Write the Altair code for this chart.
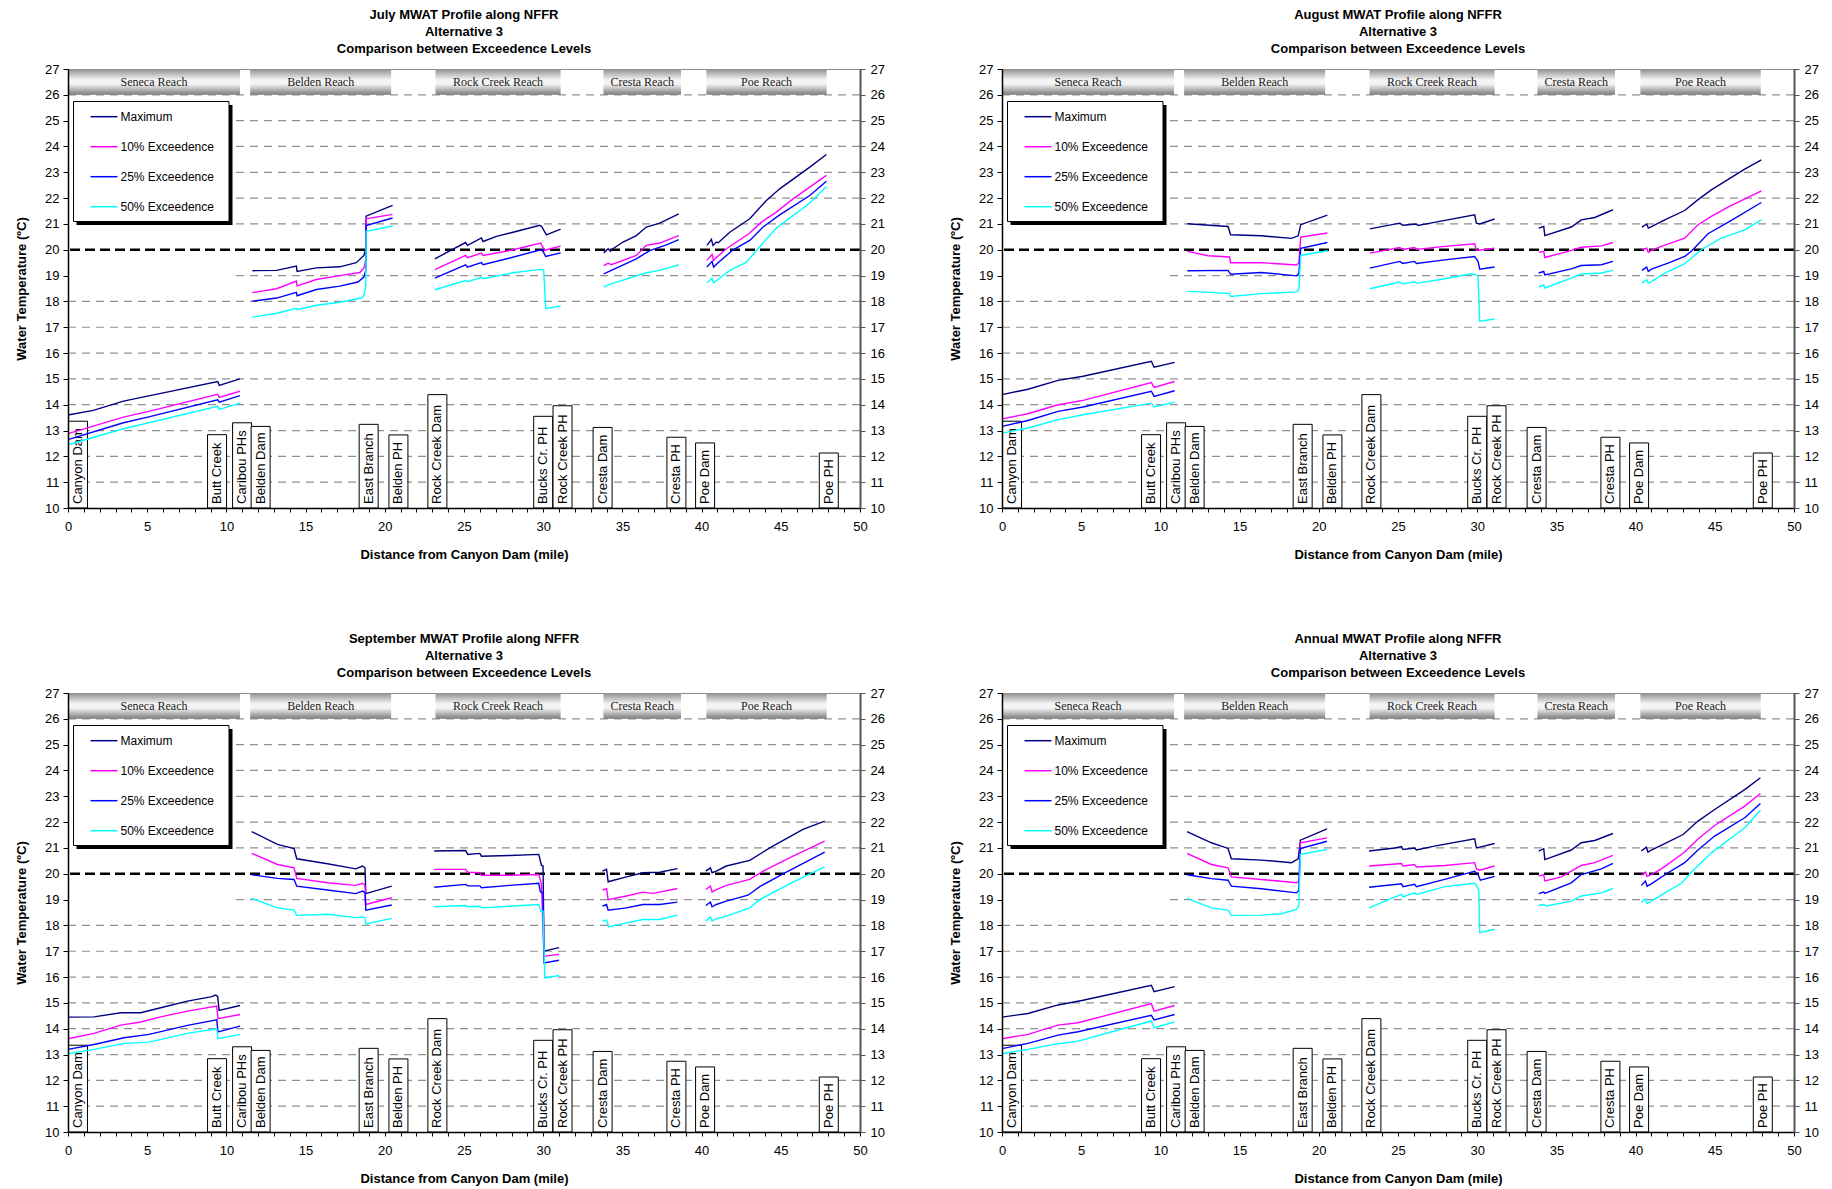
import altair as alt
import pandas as pd

FONT = "Liberation Sans"
SERIF = "Liberation Serif"

SERIES = ["Maximum", "10% Exceedence", "25% Exceedence", "50% Exceedence"]
COLORS = ["#000080", "#FF00FF", "#0000FF", "#00FFFF"]

REACHES = ["Seneca Reach", "Belden Reach", "Rock Creek Reach", "Cresta Reach", "Poe Reach"]
REACH_START = [0.0, 11.5, 23.2, 33.8, 40.3]
REACH_END = [10.86, 20.4, 31.1, 38.7, 47.9]

LOCATIONS = ["Canyon Dam", "Butt Creek", "Caribou PHs", "Belden Dam", "East Branch", "Belden PH",
             "Rock Creek Dam", "Bucks Cr. PH", "Rock Creek PH", "Cresta Dam", "Cresta PH",
             "Poe Dam", "Poe PH"]
LOC_MILE = [0.63, 9.41, 10.99, 12.16, 18.98, 20.86, 23.32, 30.0, 31.22, 33.75, 38.41, 40.22, 48.03]
LOC_TOP = [13.36, 12.84, 13.3, 13.16, 13.24, 12.83, 14.39, 13.55, 13.96, 13.12, 12.74, 12.52, 12.13]

Y_TICKS = list(range(10, 28))
X_TICKS = list(range(0, 51))
CRITERION = 20

# ---------------- July ----------------
JULY_MAX = [
    [(0, 13.6), (1.6, 13.78), (3.5, 14.14), (5.1, 14.34), (9.45, 14.9), (9.55, 14.75), (10.85, 15.0)],
    [(11.64, 19.19), (13.17, 19.2), (14.42, 19.37), (14.46, 19.16), (15.68, 19.3), (17.16, 19.34), (18.2, 19.5), (18.68, 19.78), (18.8, 20.04), (18.82, 21.3), (20.49, 21.72)],
    [(23.16, 19.65), (25.1, 20.28), (25.22, 20.17), (26.1, 20.46), (26.2, 20.32), (27.05, 20.52), (28.1, 20.68), (29.78, 20.95), (29.9, 20.9), (30.2, 20.58), (31.1, 20.8)],
    [(33.82, 19.88), (34.1, 20.04), (34.24, 19.94), (34.4, 20.04), (35.04, 20.3), (35.88, 20.55), (36.51, 20.88), (37.36, 21.03), (38.56, 21.39)],
    [(40.34, 20.17), (40.62, 20.4), (40.72, 20.17), (40.93, 20.3), (41.05, 20.27), (41.78, 20.68), (43.04, 21.2), (44.09, 21.91), (44.93, 22.36), (46.83, 23.2), (47.88, 23.69)],
]
JULY_P10 = [
    [(0, 12.88), (3.5, 13.52), (5.1, 13.74), (9.45, 14.4), (9.55, 14.28), (10.85, 14.52)],
    [(11.64, 18.34), (13.17, 18.49), (14.42, 18.79), (14.46, 18.6), (15.68, 18.85), (17.16, 19.0), (18.42, 19.12), (18.68, 19.29), (18.8, 19.6), (18.82, 21.2), (20.49, 21.37)],
    [(23.16, 19.23), (25.1, 19.78), (25.22, 19.69), (26.1, 19.87), (26.2, 19.78), (27.9, 19.97), (29.84, 20.26), (30.1, 19.97), (30.2, 20.0), (31.1, 20.14)],
    [(33.82, 19.39), (34.1, 19.48), (34.3, 19.42), (35.88, 19.78), (36.51, 20.17), (37.36, 20.26), (38.56, 20.55)],
    [(40.34, 19.59), (40.66, 19.82), (40.76, 19.59), (40.97, 19.72), (41.57, 20.04), (43.04, 20.65), (43.77, 21.07), (44.72, 21.46), (45.77, 21.97), (47.88, 22.88)],
]
JULY_P25 = [
    [(0, 12.65), (3.5, 13.3), (5.1, 13.53), (9.45, 14.19), (9.55, 14.1), (10.85, 14.35)],
    [(11.64, 18.01), (13.17, 18.13), (14.42, 18.35), (14.46, 18.22), (15.68, 18.46), (17.16, 18.59), (18.3, 18.75), (18.68, 18.94), (18.8, 19.2), (18.82, 20.94), (20.49, 21.23)],
    [(23.16, 18.9), (25.1, 19.42), (25.22, 19.33), (26.1, 19.5), (26.2, 19.42), (27.9, 19.68), (29.84, 20.0), (29.98, 19.95), (30.16, 19.74), (31.1, 19.88)],
    [(33.82, 19.07), (35.88, 19.65), (36.72, 19.97), (37.78, 20.19), (38.56, 20.39)],
    [(40.34, 19.33), (40.66, 19.55), (40.76, 19.33), (40.97, 19.46), (41.99, 20.0), (43.04, 20.36), (43.88, 20.88), (44.93, 21.35), (46.83, 22.1), (47.88, 22.65)],
]
JULY_P50 = [
    [(0, 12.45), (3.5, 13.07), (5.1, 13.3), (9.45, 13.94), (9.55, 13.82), (10.85, 14.06)],
    [(11.64, 17.39), (13.17, 17.54), (14.42, 17.73), (14.46, 17.68), (15.68, 17.85), (17.16, 17.97), (18.53, 18.13), (18.68, 18.23), (18.8, 18.6), (18.82, 20.71), (20.49, 20.92)],
    [(23.16, 18.45), (25.1, 18.81), (25.22, 18.76), (26.1, 18.93), (26.2, 18.88), (28.1, 19.11), (29.78, 19.24), (30.03, 19.21), (30.16, 17.72), (31.1, 17.82)],
    [(33.82, 18.55), (34.1, 18.64), (34.3, 18.68), (36.51, 19.11), (37.36, 19.2), (38.56, 19.42)],
    [(40.34, 18.72), (40.66, 18.9), (40.76, 18.72), (40.97, 18.82), (41.78, 19.2), (42.83, 19.52), (43.46, 19.97), (44.72, 20.84), (46.83, 21.81), (47.88, 22.45)],
]

# ---------------- August ----------------
AUG_MAX = [
    [(0, 14.39), (1.64, 14.6), (3.54, 14.94), (5.12, 15.1), (9.43, 15.68), (9.6, 15.45), (10.9, 15.64)],
    [(11.7, 21.01), (14.27, 20.9), (14.43, 20.58), (16.37, 20.54), (18.27, 20.44), (18.7, 20.54), (18.86, 20.97), (20.54, 21.34)],
    [(23.22, 20.81), (25.11, 21.03), (25.3, 20.95), (26.16, 21.0), (26.26, 20.94), (27.3, 21.06), (29.84, 21.35), (29.95, 21.03), (30.16, 21.0), (31.1, 21.19)],
    [(33.88, 20.84), (34.2, 20.9), (34.27, 20.55), (35.94, 20.88), (36.57, 21.16), (37.42, 21.25), (38.57, 21.55)],
    [(40.4, 20.88), (40.7, 21.0), (40.8, 20.84), (41.0, 20.9), (41.84, 21.16), (43.1, 21.52), (43.94, 21.94), (44.78, 22.32), (46.89, 23.12), (47.94, 23.48)],
]
AUG_P10 = [
    [(0, 13.45), (1.64, 13.65), (3.54, 14.0), (5.12, 14.17), (9.43, 14.86), (9.6, 14.67), (10.9, 14.9)],
    [(11.7, 19.94), (13.01, 19.77), (14.37, 19.72), (14.43, 19.5), (16.37, 19.5), (18.59, 19.41), (18.74, 19.5), (18.86, 20.49), (20.54, 20.65)],
    [(23.22, 19.87), (25.11, 20.09), (25.3, 20.01), (26.05, 20.09), (26.16, 20.01), (27.95, 20.13), (29.84, 20.23), (29.95, 19.97), (31.1, 20.06)],
    [(33.88, 19.9), (34.2, 19.94), (34.27, 19.7), (35.73, 19.94), (36.57, 20.1), (37.84, 20.15), (38.57, 20.28)],
    [(40.4, 20.0), (40.7, 20.06), (40.8, 19.9), (41.0, 19.98), (41.63, 20.13), (43.1, 20.45), (43.94, 20.97), (44.78, 21.29), (45.83, 21.65), (47.94, 22.28)],
]
AUG_P25 = [
    [(0, 13.16), (1.64, 13.39), (3.54, 13.74), (5.12, 13.91), (9.43, 14.52), (9.6, 14.32), (10.9, 14.54)],
    [(11.7, 19.19), (14.27, 19.2), (14.43, 19.05), (16.37, 19.12), (18.59, 18.99), (18.74, 19.08), (18.86, 20.06), (20.54, 20.28)],
    [(23.22, 19.29), (25.11, 19.55), (25.3, 19.47), (26.05, 19.55), (26.16, 19.47), (27.95, 19.61), (29.84, 19.74), (30.05, 19.55), (30.16, 19.25), (31.1, 19.33)],
    [(33.88, 19.1), (34.2, 19.16), (34.27, 19.03), (35.94, 19.26), (36.57, 19.39), (37.84, 19.42), (38.57, 19.55)],
    [(40.4, 19.2), (40.7, 19.33), (40.8, 19.16), (41.0, 19.25), (42.05, 19.48), (43.1, 19.74), (43.52, 19.94), (44.57, 20.62), (45.83, 21.06), (47.94, 21.83)],
]
AUG_P50 = [
    [(0, 12.9), (1.64, 13.1), (3.54, 13.42), (5.12, 13.61), (9.43, 14.06), (9.6, 13.91), (10.9, 14.1)],
    [(11.7, 18.39), (13.22, 18.35), (14.37, 18.3), (14.43, 18.19), (16.37, 18.3), (18.59, 18.37), (18.74, 18.45), (18.86, 19.78), (20.54, 19.96)],
    [(23.22, 18.49), (25.11, 18.75), (25.3, 18.68), (26.05, 18.76), (26.16, 18.7), (27.95, 18.88), (29.63, 19.07), (29.95, 19.03), (30.05, 18.97), (30.16, 17.23), (31.1, 17.32)],
    [(33.88, 18.55), (34.2, 18.64), (34.27, 18.52), (35.94, 18.9), (36.57, 19.06), (37.84, 19.1), (38.57, 19.2)],
    [(40.4, 18.71), (40.7, 18.84), (40.8, 18.71), (41.0, 18.77), (41.84, 19.1), (43.1, 19.46), (44.15, 20.0), (45.41, 20.45), (46.89, 20.77), (47.94, 21.16)],
]

# ---------------- September ----------------
SEP_MAX = [
    [(0, 14.45), (1.64, 14.46), (3.33, 14.62), (4.59, 14.62), (5.85, 14.81), (7.54, 15.07), (9.01, 15.23), (9.33, 15.3), (9.45, 15.25), (9.54, 14.71), (10.86, 14.9)],
    [(11.6, 21.63), (13.22, 21.14), (14.27, 20.98), (14.44, 20.58), (16.38, 20.39), (18.17, 20.19), (18.59, 20.3), (18.75, 20.23), (18.8, 19.23), (20.44, 19.52)],
    [(23.12, 20.88), (25.1, 20.9), (25.25, 20.75), (26.0, 20.79), (26.1, 20.68), (27.9, 20.71), (29.72, 20.75), (29.89, 20.32), (29.99, 20.3), (30.05, 17.0), (31.0, 17.14)],
    [(33.74, 20.1), (34.0, 20.17), (34.1, 19.69), (35.25, 19.88), (36.3, 20.04), (37.36, 20.06), (38.47, 20.2)],
    [(40.26, 20.1), (40.56, 20.23), (40.66, 20.04), (40.93, 20.1), (41.56, 20.3), (43.04, 20.52), (44.3, 21.0), (46.4, 21.72), (47.77, 22.04)],
]
SEP_P10 = [
    [(0, 13.61), (1.64, 13.82), (3.33, 14.14), (4.59, 14.26), (5.85, 14.46), (7.54, 14.68), (9.39, 14.88), (9.47, 14.39), (10.86, 14.55)],
    [(11.6, 20.79), (13.22, 20.36), (14.27, 20.23), (14.44, 19.82), (16.38, 19.65), (18.17, 19.55), (18.59, 19.63), (18.75, 19.55), (18.8, 18.81), (20.44, 19.07)],
    [(23.12, 20.17), (25.1, 20.17), (25.25, 20.06), (26.0, 20.04), (26.1, 19.94), (27.9, 19.94), (29.72, 19.97), (29.89, 19.59), (30.05, 16.81), (31.0, 16.88)],
    [(33.74, 19.37), (34.0, 19.42), (34.1, 19.0), (35.25, 19.14), (36.3, 19.29), (36.94, 19.24), (38.47, 19.43)],
    [(40.26, 19.39), (40.56, 19.52), (40.66, 19.3), (40.93, 19.39), (41.56, 19.55), (43.04, 19.78), (43.88, 20.1), (45.77, 20.68), (47.77, 21.26)],
]
SEP_P25 = [
    [(0, 13.2), (1.64, 13.39), (3.54, 13.65), (5.12, 13.78), (7.54, 14.13), (9.39, 14.34), (9.47, 13.88), (10.86, 14.1)],
    [(11.6, 19.96), (13.22, 19.82), (14.27, 19.78), (14.44, 19.52), (16.38, 19.37), (18.17, 19.23), (18.59, 19.33), (18.75, 19.27), (18.8, 18.59), (20.44, 18.79)],
    [(23.12, 19.48), (25.1, 19.59), (25.25, 19.53), (26.0, 19.53), (26.1, 19.46), (27.9, 19.55), (29.72, 19.63), (29.82, 19.3), (29.99, 19.26), (30.05, 16.55), (31.0, 16.65)],
    [(33.74, 18.75), (34.0, 18.81), (34.1, 18.59), (35.25, 18.68), (36.3, 18.81), (37.36, 18.81), (38.47, 18.9)],
    [(40.26, 18.77), (40.56, 18.9), (40.66, 18.72), (40.93, 18.81), (41.56, 18.94), (42.93, 19.17), (43.67, 19.5), (45.14, 20.0), (47.77, 20.84)],
]
SEP_P50 = [
    [(0, 13.03), (1.64, 13.2), (3.54, 13.43), (5.12, 13.48), (7.54, 13.82), (9.39, 14.0), (9.47, 13.61), (10.86, 13.78)],
    [(11.6, 19.05), (13.22, 18.68), (14.27, 18.59), (14.44, 18.39), (16.38, 18.43), (18.17, 18.3), (18.59, 18.33), (18.75, 18.3), (18.8, 18.06), (20.44, 18.27)],
    [(23.12, 18.72), (25.1, 18.77), (25.25, 18.72), (26.0, 18.74), (26.1, 18.68), (27.9, 18.74), (29.72, 18.81), (29.85, 18.53), (29.99, 18.55), (30.1, 15.97), (31.0, 16.06)],
    [(33.74, 18.17), (34.0, 18.21), (34.14, 17.94), (35.25, 18.1), (36.3, 18.23), (37.36, 18.23), (38.47, 18.4)],
    [(40.26, 18.17), (40.56, 18.32), (40.66, 18.17), (40.93, 18.26), (41.56, 18.36), (43.04, 18.68), (43.67, 19.0), (45.77, 19.68), (47.77, 20.27)],
]

# ---------------- Annual ----------------
ANN_MAX = [
    [(0, 14.45), (1.64, 14.59), (3.54, 14.92), (5.12, 15.1), (9.43, 15.68), (9.6, 15.43), (10.9, 15.63)],
    [(11.68, 21.63), (13.22, 21.2), (14.27, 20.98), (14.48, 20.58), (16.38, 20.53), (18.27, 20.43), (18.7, 20.58), (18.84, 21.3), (20.52, 21.74)],
    [(23.17, 20.88), (24.8, 21.0), (25.22, 21.05), (25.32, 20.94), (26.05, 21.0), (26.16, 20.92), (27.3, 21.07), (29.84, 21.35), (29.95, 21.0), (30.16, 21.03), (31.1, 21.17)],
    [(33.88, 20.88), (34.2, 20.97), (34.27, 20.55), (35.94, 20.92), (36.57, 21.2), (37.42, 21.29), (38.57, 21.56)],
    [(40.36, 20.88), (40.67, 21.03), (40.78, 20.84), (40.99, 20.92), (41.84, 21.17), (43.0, 21.52), (43.94, 22.04), (44.99, 22.49), (46.89, 23.26), (47.88, 23.72)],
]
ANN_P10 = [
    [(0, 13.61), (1.64, 13.78), (3.54, 14.14), (4.8, 14.23), (9.43, 14.97), (9.6, 14.68), (10.9, 14.9)],
    [(11.68, 20.79), (13.22, 20.36), (14.27, 20.23), (14.48, 19.88), (16.38, 19.78), (18.59, 19.65), (18.74, 19.71), (18.84, 21.2), (20.52, 21.39)],
    [(23.17, 20.3), (25.22, 20.4), (25.32, 20.3), (26.05, 20.36), (26.16, 20.26), (27.95, 20.32), (29.84, 20.43), (29.95, 20.19), (30.16, 20.14), (31.1, 20.3)],
    [(33.88, 19.91), (34.2, 19.97), (34.27, 19.72), (35.31, 19.88), (36.57, 20.32), (37.42, 20.43), (38.57, 20.71)],
    [(40.36, 19.94), (40.62, 20.06), (40.72, 19.9), (40.99, 19.97), (41.63, 20.19), (43.1, 20.84), (43.94, 21.35), (44.99, 21.87), (46.89, 22.62), (47.88, 23.11)],
]
ANN_P25 = [
    [(0, 13.23), (1.64, 13.43), (3.54, 13.75), (4.8, 13.88), (9.43, 14.52), (9.6, 14.34), (10.9, 14.55)],
    [(11.68, 19.96), (13.22, 19.81), (14.27, 19.75), (14.48, 19.52), (16.38, 19.42), (18.59, 19.26), (18.74, 19.36), (18.84, 20.98), (20.52, 21.26)],
    [(23.17, 19.48), (25.22, 19.61), (25.32, 19.5), (26.05, 19.59), (26.16, 19.5), (27.95, 19.78), (29.84, 20.1), (30.05, 19.97), (30.2, 19.75), (31.1, 19.9)],
    [(33.88, 19.23), (34.2, 19.29), (34.27, 19.24), (35.94, 19.65), (36.57, 19.97), (37.84, 20.19), (38.57, 20.4)],
    [(40.36, 19.55), (40.62, 19.72), (40.72, 19.52), (40.99, 19.61), (42.05, 20.04), (43.1, 20.43), (43.94, 20.92), (44.99, 21.46), (46.89, 22.17), (47.88, 22.72)],
]
ANN_P50 = [
    [(0, 13.03), (1.64, 13.2), (3.54, 13.42), (4.8, 13.52), (9.43, 14.3), (9.6, 14.04), (10.9, 14.26)],
    [(11.68, 19.05), (13.22, 18.68), (14.27, 18.59), (14.48, 18.39), (16.38, 18.4), (17.64, 18.45), (18.59, 18.62), (18.74, 18.75), (18.84, 20.75), (20.52, 20.94)],
    [(23.17, 18.68), (24.17, 18.94), (25.22, 19.2), (25.32, 19.1), (26.05, 19.26), (26.16, 19.2), (27.95, 19.5), (29.84, 19.63), (29.95, 19.55), (30.1, 19.33), (30.16, 17.72), (31.1, 17.85)],
    [(33.88, 18.77), (34.2, 18.81), (34.37, 18.75), (35.94, 18.94), (36.57, 19.14), (37.84, 19.26), (38.57, 19.43)],
    [(40.36, 18.9), (40.62, 19.03), (40.72, 18.85), (40.99, 18.94), (41.84, 19.26), (42.89, 19.63), (43.52, 20.06), (44.78, 20.81), (46.89, 21.78), (47.88, 22.46)],
]

PANELS = [
    ("July", [JULY_MAX, JULY_P10, JULY_P25, JULY_P50]),
    ("August", [AUG_MAX, AUG_P10, AUG_P25, AUG_P50]),
    ("September", [SEP_MAX, SEP_P10, SEP_P25, SEP_P50]),
    ("Annual", [ANN_MAX, ANN_P10, ANN_P25, ANN_P50]),
]

# ---------------- styling ----------------
W, H = 792, 439
XS = alt.Scale(domain=[0, 50], nice=False, zero=False, padding=0)
YS = alt.Scale(domain=[10, 27], nice=False, zero=False, padding=0)
CS = alt.Scale(domain=SERIES, range=COLORS)

banner_df = pd.DataFrame({"name": REACHES, "start": REACH_START, "end": REACH_END})
banner_df["mid"] = (banner_df["start"] + banner_df["end"]) / 2
banner_df["top"] = Y_TICKS[-1]
banner_df["bot"] = Y_TICKS[-2]
banner_df["ty"] = (banner_df["top"] + banner_df["bot"]) / 2

loc_df = pd.DataFrame({"name": LOCATIONS, "mile": LOC_MILE, "top": LOC_TOP})
loc_df["bot"] = Y_TICKS[0]

grid_df = pd.DataFrame({"v": [v for v in Y_TICKS[1:-1] if v != CRITERION]})
crit_df = pd.DataFrame({"v": [CRITERION]})
leg_df = pd.DataFrame({"series": SERIES, "row": list(range(len(SERIES)))})
one_df = pd.DataFrame({"a": [0]})

banner_fill = alt.Gradient(
    gradient="linear",
    stops=[
        alt.GradientStop(color="#8e8e8e", offset=0),
        alt.GradientStop(color="#f4f4f4", offset=0.42),
        alt.GradientStop(color="#f4f4f4", offset=0.58),
        alt.GradientStop(color="#7a7a7a", offset=1),
    ],
    x1=0, x2=0, y1=0, y2=1,
)


def build_panel(month, data):
    rows = []
    for s, segs in zip(SERIES, data):
        for r, seg in zip(REACHES, segs):
            for m, t in seg:
                rows.append({"series": s, "seg": s + "|" + r, "mile": m, "temp": t, "ord": len(rows)})
    df = pd.DataFrame(rows)

    x_axis = alt.Axis(values=X_TICKS, labelExpr="datum.value % 5 === 0 ? datum.label : ''",
                      tickSize=4, labelPadding=8, labelFlush=False, grid=False,
                      title="Distance from Canyon Dam (mile)", titlePadding=15,
                      domainColor="black", domainWidth=1.5, tickColor="black", zindex=1)
    y_left = alt.Axis(values=Y_TICKS, grid=False, tickSize=5, labelPadding=4,
                      domainColor="black", domainWidth=1.5, tickColor="black",
                      title="Water Temperature (ºC)", titlePadding=16, zindex=1)
    y_right = alt.Axis(orient="right", values=Y_TICKS, grid=False, tickSize=5, labelPadding=5,
                       domainColor="#555555", domainWidth=2, tickColor="#555555",
                       title=None, zindex=1)

    grid = alt.Chart(grid_df).mark_rule(color="#909090", strokeWidth=1.2, strokeDash=[8, 6]).encode(
        y=alt.Y("v:Q", scale=YS, axis=None))
    cover = alt.Chart(one_df).mark_rect(fill="white").encode(
        x=alt.value(1), x2=alt.value(168), y=alt.value(27), y2=alt.value(220))
    banners = alt.Chart(banner_df).mark_rect(fill=banner_fill).encode(
        x=alt.X("start:Q", scale=XS, axis=None), x2="end:Q",
        y=alt.Y("top:Q", scale=YS, axis=None), y2="bot:Q")
    banner_text = alt.Chart(banner_df).mark_text(font=SERIF, fontSize=12, color="#1a1a1a").encode(
        x=alt.X("mid:Q", scale=XS, axis=None), y=alt.Y("ty:Q", scale=YS, axis=None), text="name:N")
    boxes = alt.Chart(loc_df).mark_bar(size=19, fill="white", stroke="black", strokeWidth=1).encode(
        x=alt.X("mile:Q", scale=XS, axis=None),
        y=alt.Y("bot:Q", scale=YS, axis=None), y2="top:Q")
    box_text = alt.Chart(loc_df).mark_text(angle=270, align="left", baseline="middle", dx=4,
                                           font=FONT, fontSize=13, color="black").encode(
        x=alt.X("mile:Q", scale=XS, axis=None), y=alt.Y("bot:Q", scale=YS, axis=None), text="name:N")
    crit = alt.Chart(crit_df).mark_rule(color="black", strokeWidth=2.3, strokeDash=[10, 5]).encode(
        y=alt.Y("v:Q", scale=YS, axis=y_right))
    lines = alt.Chart(df).mark_line(strokeWidth=1.4).encode(
        x=alt.X("mile:Q", scale=XS, axis=x_axis),
        y=alt.Y("temp:Q", scale=YS, axis=y_left),
        color=alt.Color("series:N", scale=CS, legend=None),
        detail="seg:N",
        order="ord:Q",
    )
    shadow = alt.Chart(one_df).mark_rect(fill="black").encode(
        x=alt.value(8.5), x2=alt.value(164.5), y=alt.value(36), y2=alt.value(156))
    box = alt.Chart(one_df).mark_rect(fill="white", stroke="black", strokeWidth=1).encode(
        x=alt.value(5.5), x2=alt.value(161), y=alt.value(32.5), y2=alt.value(152.5))
    leg_base = alt.Chart(leg_df).transform_calculate(py="47.7 + 30 * datum.row")
    leg_lines = leg_base.mark_rule(strokeWidth=1.5).encode(
        x=alt.value(22.5), x2=alt.value(49.5),
        y=alt.Y("py:Q", scale=None, axis=None),
        color=alt.Color("series:N", scale=CS, legend=None))
    leg_text = leg_base.mark_text(align="left", baseline="middle", font=FONT, fontSize=12,
                                  color="black").encode(
        x=alt.value(52.5), y=alt.Y("py:Q", scale=None, axis=None), text="series:N")

    title = alt.TitleParams(
        text=[f"{month} MWAT Profile along NFFR", "Alternative 3", "Comparison between Exceedence Levels"],
        font=FONT, fontSize=13, fontWeight="bold", lineHeight=17, anchor="middle",
        frame="group", offset=7, color="black")

    return alt.layer(
        grid, cover, banners, boxes, box_text, crit, lines, banner_text,
        shadow, box, leg_lines, leg_text,
    ).resolve_axis(x="independent", y="independent").properties(width=W, height=H, title=title)


panels = [build_panel(m, d) for m, d in PANELS]
row1 = alt.hconcat(panels[0], panels[1], spacing=64)
row2 = alt.hconcat(panels[2], panels[3], spacing=64)
chart = alt.vconcat(row1, row2, spacing=70).properties(
    padding={"left": 7, "top": 0, "right": 3, "bottom": 0}
).configure_view(stroke="#8c8c8c", strokeWidth=1).configure_axis(
    labelFont=FONT, labelFontSize=13, labelColor="black",
    titleFont=FONT, titleFontSize=13, titleFontWeight="bold", titleColor="black",
)

chart.save("out.html", embed_options={"renderer": "svg", "actions": False})
